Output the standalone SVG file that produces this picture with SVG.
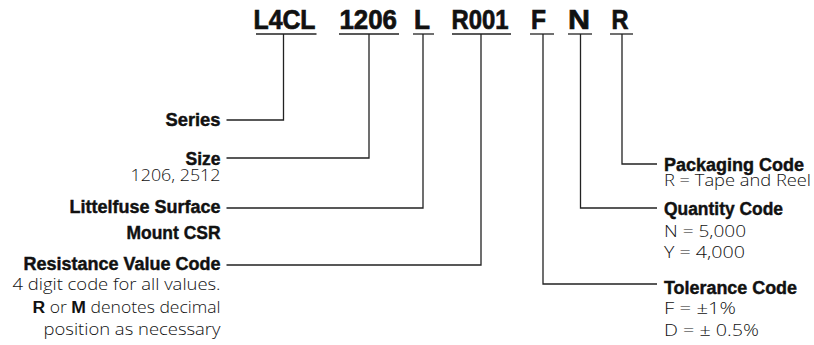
<svg xmlns="http://www.w3.org/2000/svg" width="814" height="345" viewBox="0 0 814 345">
<style>
.code{font-family:"Liberation Sans Narrow","Liberation Sans",Arial,sans-serif;font-weight:bold;font-size:27px;fill:#111;stroke:#111;stroke-width:0.7}
.hd{font-family:"Liberation Sans Narrow","Liberation Sans",Arial,sans-serif;font-weight:bold;font-size:19.2px;fill:#111;stroke:#111;stroke-width:0.45}
.tx{font-family:"Open Sans",Roboto,"Liberation Sans",Arial,sans-serif;font-weight:300;font-size:16px;fill:#111}
.b{font-family:"Liberation Sans",Arial,sans-serif;font-weight:bold;fill:#111}
.ul{stroke:#222;stroke-width:1.3;fill:none}
.cn{stroke:#222;stroke-width:1.3;fill:none}
.l{text-anchor:end}
</style>
<rect width="814" height="345" fill="#fff"/>
<g id="codes">
<g id="code-L4CL"><text class="code" x="253.5" y="28.5" textLength="62" lengthAdjust="spacingAndGlyphs">L4CL</text><line class="ul" x1="256" y1="34" x2="316.5" y2="34"/></g>
<g id="code-1206"><text class="code" x="339.5" y="28.5" textLength="57.5" lengthAdjust="spacingAndGlyphs">1206</text><line class="ul" x1="339" y1="34" x2="399" y2="34"/></g>
<g id="code-L"><text class="code" x="414" y="28.5" textLength="16" lengthAdjust="spacingAndGlyphs">L</text><line class="ul" x1="413" y1="34" x2="434" y2="34"/></g>
<g id="code-R001"><text class="code" x="451.5" y="28.5" textLength="57" lengthAdjust="spacingAndGlyphs">R001</text><line class="ul" x1="452" y1="34" x2="511" y2="34"/></g>
<g id="code-F"><text class="code" x="531" y="28.5" textLength="15" lengthAdjust="spacingAndGlyphs">F</text><line class="ul" x1="530" y1="34" x2="554" y2="34"/></g>
<g id="code-N"><text class="code" x="568" y="28.5" textLength="22" lengthAdjust="spacingAndGlyphs">N</text><line class="ul" x1="568" y1="34" x2="592" y2="34"/></g>
<g id="code-R"><text class="code" x="611.5" y="28.5" textLength="17" lengthAdjust="spacingAndGlyphs">R</text><line class="ul" x1="610" y1="34" x2="633" y2="34"/></g>
</g>
<g id="connectors">
<path class="cn" d="M283.5,34 V120 H226.5"/>
<path class="cn" d="M369,34 V158 H226.5"/>
<path class="cn" d="M423,34 V208 H226.5"/>
<path class="cn" d="M481,34 V265 H226.5"/>
<path class="cn" d="M543,34 V284 H657"/>
<path class="cn" d="M580.5,34 V208 H657"/>
<path class="cn" d="M622,34 V164 H657"/>
</g>
<g id="series"><text class="hd l" x="220.5" y="125.5" textLength="55" lengthAdjust="spacingAndGlyphs">Series</text></g>
<g id="size"><text class="hd l" x="220.5" y="164.5" textLength="35" lengthAdjust="spacingAndGlyphs">Size</text>
<text class="tx l" x="220.5" y="181" textLength="90" lengthAdjust="spacingAndGlyphs">1206, 2512</text></g>
<g id="littelfuse"><text class="hd l" x="220.5" y="213.3" textLength="151" lengthAdjust="spacingAndGlyphs">Littelfuse Surface</text>
<text class="hd l" x="220.5" y="238.5" textLength="94" lengthAdjust="spacingAndGlyphs">Mount CSR</text></g>
<g id="resistance"><text class="hd l" x="220.5" y="270" textLength="197" lengthAdjust="spacingAndGlyphs">Resistance Value Code</text>
<text class="tx l" x="220.5" y="290" textLength="208" lengthAdjust="spacingAndGlyphs">4 digit code for all values.</text>
<text class="tx l" x="220.5" y="312.5" textLength="188" lengthAdjust="spacingAndGlyphs"><tspan class="b">R</tspan> or <tspan class="b">M</tspan> denotes decimal</text>
<text class="tx l" x="220.5" y="334.5" textLength="177" lengthAdjust="spacingAndGlyphs">position as necessary</text></g>
<g id="packaging"><text class="hd" x="664" y="170.5" textLength="140" lengthAdjust="spacingAndGlyphs">Packaging Code</text>
<text class="tx" x="664" y="186" textLength="147" lengthAdjust="spacingAndGlyphs">R = Tape and Reel</text></g>
<g id="quantity"><text class="hd" x="664" y="214.5" textLength="119" lengthAdjust="spacingAndGlyphs">Quantity Code</text>
<text class="tx" x="664" y="236.5" textLength="82" lengthAdjust="spacingAndGlyphs">N = 5,000</text>
<text class="tx" x="664" y="257.5" textLength="81" lengthAdjust="spacingAndGlyphs">Y = 4,000</text></g>
<g id="tolerance"><text class="hd" x="664" y="293.5" textLength="133" lengthAdjust="spacingAndGlyphs">Tolerance Code</text>
<text class="tx" x="664" y="313.5" textLength="72" lengthAdjust="spacingAndGlyphs">F = ±1%</text>
<text class="tx" x="664" y="335.5" textLength="95" lengthAdjust="spacingAndGlyphs">D = ± 0.5%</text></g>
</svg>
